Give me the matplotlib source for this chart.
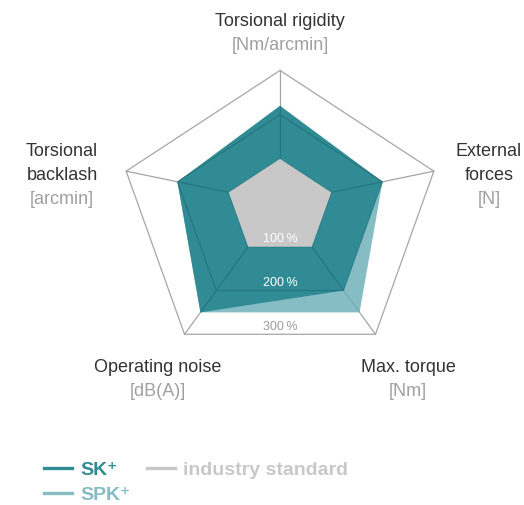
import matplotlib.pyplot as plt
import numpy as np
from matplotlib.lines import Line2D
from matplotlib.patches import Polygon

plt.rcParams["font.family"] = ["Liberation Sans", "DejaVu Sans"]

# -- data: values in % of the industry standard, clockwise from the top
AXES = ["Torsional rigidity", "External\nforces", "Max. torque", "Operating noise", "Torsional\nbacklash"]
UNITS = ["[Nm/arcmin]", "[N]", "[Nm]", "[dB(A)]", "[arcmin]"]
SK = [220, 200, 200, 250, 200]
SPK = [200, 200, 250, 250, 200]
INDUSTRY = [100, 100, 100, 100, 100]
RINGS = [100, 200, 300]
RING_LABELS = ["100\u2009%", "200\u2009%", "300\u2009%"]
SERIES = ["SK\u207a", "SPK\u207a", "industry standard"]

# -- layout (pixel space, y pointing down)
W, H = 524, 505
CENTER = np.array([280.0, 203.0])
UNIT = 44.2  # pixels per 100 %
DIRS = np.array([[0.0, -1.0], [1.16, -0.24], [0.72, 0.99], [-0.72, 0.99], [-1.16, -0.24]])
LABEL_XY = [(280, 22), (489, 152), (408, 368), (158, 368), (62, 152)]
LINE_H = 23.5

C_SK = "#318b94"
C_SPK = "#86bdc4"
C_IND = "#c8c8c8"
C_GRID = "#a6a6a6"


def pts(values):
    return CENTER + (np.asarray(values, float)[:, None] / 100.0) * UNIT * DIRS


def main():
    fig = plt.figure(figsize=(W / 100, H / 100), dpi=100)
    ax = fig.add_axes([0, 0, 1, 1])
    ax.set_xlim(0, W)
    ax.set_ylim(H, 0)
    ax.axis("off")

    outer = pts([RINGS[-1]] * 5)

    def grid(color, z, clip=None):
        arts = []
        for r in RINGS:
            arts.append(ax.add_patch(Polygon(pts([r] * 5), closed=True, fill=False,
                                             ec=color, lw=0.9, zorder=z)))
        for p in outer:
            arts += ax.plot([CENTER[0], p[0]], [CENTER[1], p[1]], color=color, lw=0.9, zorder=z)
        if clip is not None:
            for a in arts:
                a.set_clip_path(clip)

    grid(C_GRID, 1)

    spk = ax.add_patch(Polygon(pts(SPK), closed=True, fc=C_SPK, ec="none", zorder=2))
    grid("#74adb5", 3, clip=spk)
    sk = ax.add_patch(Polygon(pts(SK), closed=True, fc=C_SK, ec="none", zorder=4))
    grid("#25777f", 5, clip=sk)
    ax.add_patch(Polygon(pts(INDUSTRY), closed=True, fc=C_IND, ec="none", zorder=6))

    # ring labels just inside the bottom edge of each ring
    for r, lab, col in zip(RINGS, RING_LABELS, ["white", "white", "#9a9a9a"]):
        y = CENTER[1] + r / 100.0 * UNIT * DIRS[2, 1] - 7.5
        ax.text(CENTER[0], y, lab, ha="center", va="center", fontsize=9, color=col, zorder=7)

    # axis names and units
    for (x, y), name, unit in zip(LABEL_XY, AXES, UNITS):
        lines = name.split("\n")
        for i, ln in enumerate(lines):
            ax.text(x, y + i * LINE_H, ln, ha="center", va="center", fontsize=13, color="#333333")
        ax.text(x, y + len(lines) * LINE_H, unit, ha="center", va="center", fontsize=13, color="#a0a0a0")

    handles = [Line2D([], [], color=c, lw=2.4) for c in (C_SK, C_SPK, C_IND)]
    fig.legend(handles, SERIES, ncol=2, loc="upper left",
               bbox_to_anchor=(44 / W, 1 - 461 / H), frameon=False,
               prop={"weight": "bold", "size": 14}, labelcolor="linecolor",
               handlelength=1.45, handletextpad=0.4, columnspacing=0.85,
               labelspacing=0.4, borderpad=0, borderaxespad=0)

    fig.savefig("out.png", dpi=100)


if __name__ == "__main__":
    main()
